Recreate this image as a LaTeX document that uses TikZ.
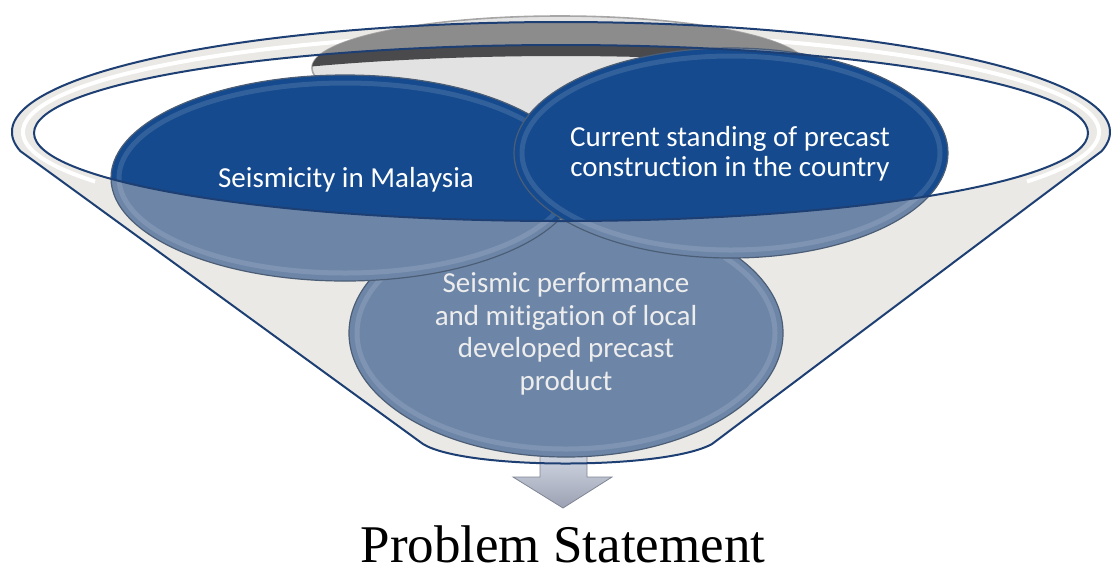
\documentclass[tikz,border=0pt]{standalone}
\usepackage{fontspec}
\setmainfont{Liberation Serif}
\newfontfamily\calibri[Ligatures=NoCommon]{Carlito}
\definecolor{rimnavy}{HTML}{1D3F73}
\definecolor{deepblue}{HTML}{154A8E}
\definecolor{paleblue}{HTML}{6D86A8}
\definecolor{funnelgrey}{HTML}{EAE9E5}
\definecolor{backgrey}{HTML}{E2E2E2}
\definecolor{bandgrey}{HTML}{8C8C8C}
\definecolor{stripgrey}{HTML}{4A4A4C}
\definecolor{arrowgrey}{HTML}{B6BED2}
\definecolor{textgrey}{HTML}{EDEDED}
\newcommand{\funnelpath}{(outer) ++(170:549 and 110) arc[start angle=170, end angle=370, x radius=549, y radius=110] -- (712,444) .. controls (665,470) and (465,470) .. (423,444) -- cycle}

\begin{document}
\begin{tikzpicture}[x=0.5pt, y=-0.5pt,
    outer radii/.style={x radius=549, y radius=110},
    inner radii/.style={x radius=527, y radius=88},
    back radii/.style={x radius=248, y radius=52},
    seis radii/.style={x radius=234, y radius=103},
    stand radii/.style={x radius=217, y radius=105},
    perf radii/.style={x radius=217, y radius=124},
    rimline/.style={draw=rimnavy, line width=1pt},
    rim/.style={draw=black!30!paleblue, line width=.6pt},
    bevel/.style={draw=white, opacity=.12, line width=2.5pt},
    label text/.style={text=white, align=center, font=\calibri\fontsize{14.5}{15}\selectfont}]
    \useasboundingbox (0,0) rectangle (1112,575);
    \coordinate (outer) at (561,132);
    \coordinate (inner) at (561,133);
    \coordinate (innerlow) at (561,144);
    \coordinate (back) at (560,68);
    \coordinate (seis) at (345,178);
    \coordinate (stand) at (731,153);
    \coordinate (perf) at (566,333);

    \fill[funnelgrey] \funnelpath;
    \fill[white] (inner) ellipse[inner radii];
    \draw[white, line width=2pt] (outer) ++(150:538 and 99) arc[start angle=150, end angle=390, x radius=538, y radius=99];
    \shadedraw[top color=arrowgrey!60!white, bottom color=arrowgrey!85!black, draw=arrowgrey!70!black, line width=.4pt]
        (540,452) -- (587,452) -- (587,477) -- (612,477) -- (563,508) -- (513,477) -- (540,477) -- cycle;

    \path[fill=backgrey, draw=gray!70, line width=.8pt] (back) ellipse[back radii];
    \begin{scope}
        \clip (back) ellipse[back radii];
        \fill[bandgrey, even odd rule] (outer) ellipse[outer radii] (inner) ellipse[inner radii];
        \clip (inner) ellipse[inner radii];
        \fill[stripgrey, even odd rule] (inner) ellipse[inner radii] (innerlow) ellipse[inner radii];
    \end{scope}

    \fill[paleblue] (perf) ellipse[perf radii];
    \draw[rim] (perf) ellipse[perf radii];
    \draw[bevel] (perf) ellipse[x radius=209, y radius=116];

    \fill[paleblue] (seis) ellipse[seis radii];
    \begin{scope}
        \clip (inner) ellipse[inner radii];
        \fill[deepblue] (seis) ellipse[seis radii];
    \end{scope}
    \draw[rim] (seis) ellipse[seis radii];
    \draw[bevel] (seis) ellipse[x radius=226, y radius=95];

    \fill[paleblue] (stand) ellipse[stand radii];
    \begin{scope}
        \clip (inner) ellipse[inner radii];
        \fill[deepblue] (stand) ellipse[stand radii];
    \end{scope}
    \draw[rim] (stand) ellipse[stand radii];
    \draw[bevel] (stand) ellipse[x radius=209, y radius=97];

    \draw[rimline] (inner) ellipse[inner radii];
    \draw[rimline] \funnelpath;

    \node[label text] (seismicity) at (346,180) {Seismicity in Malaysia};
    \node[label text] (standing) at (730,154) {Current standing of precast\\construction in the country};
    \node[label text, text=textgrey, font=\calibri\fontsize{14.5}{16.3}\selectfont] (performance) at (566,334)
        {Seismic performance\\and mitigation of local\\developed precast\\product};
    \node[font=\fontsize{26.5}{30}\selectfont, anchor=base, inner sep=0pt] (problem) at (563,562) {Problem Statement};
\end{tikzpicture}
\end{document}
